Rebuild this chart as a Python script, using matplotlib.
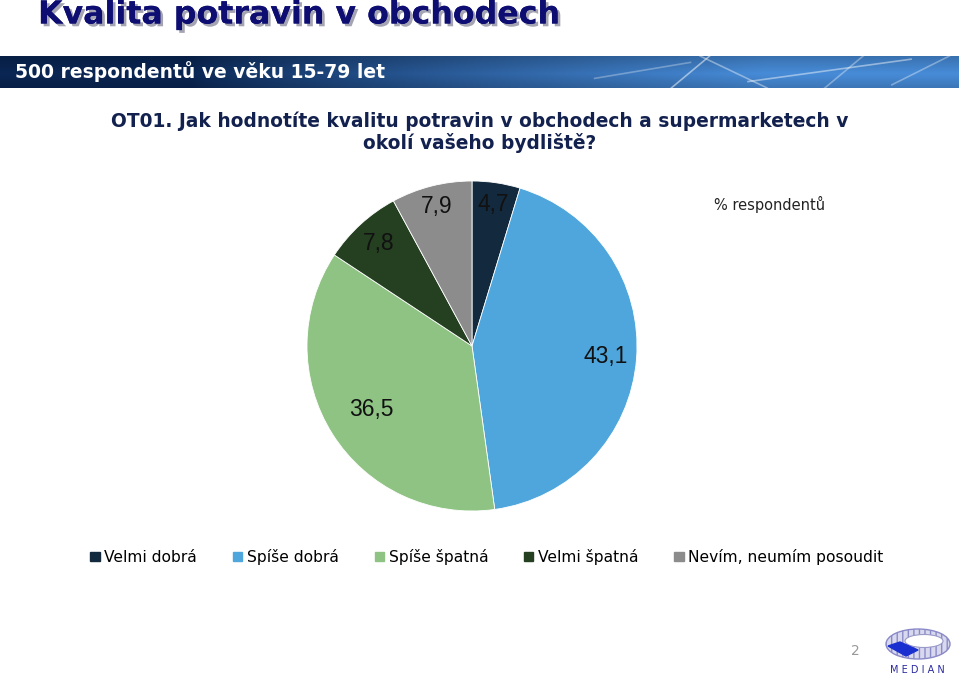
import numpy as np
import matplotlib
matplotlib.use("Agg")
import matplotlib.pyplot as plt
import matplotlib.patheffects as pe
from matplotlib.patches import Rectangle, Ellipse, Polygon

categories = ["Velmi dobrá", "Spíše dobrá", "Spíše špatná", "Velmi špatná", "Nevím, neumím posoudit"]
values = [4.7, 43.1, 36.5, 7.8, 7.9]
value_labels = ["4,7", "43,1", "36,5", "7,8", "7,9"]
colors = ["#132a3e", "#4ea6dc", "#8fc383", "#254021", "#8c8c8c"]
label_dist = [0.87, 0.81, 0.72, 0.84, 0.87]

W, H = 959, 676
fig = plt.figure(figsize=(W / 100, H / 100), dpi=100)

# Title with shadow
fig.text(38 / W, 1 - 15 / H, "Kvalita potravin v obchodech", fontsize=22.8,
         fontweight="bold", color="#0d0d72", va="center", ha="left",
         path_effects=[pe.withSimplePatchShadow(offset=(2, -2), shadow_rgbFace="#9a9aaa", alpha=0.9),
                       pe.Normal()])

# Banner
bax = fig.add_axes([0, 1 - 88 / H, 1, 32 / H])
bax.set_axis_off()
x = np.linspace(0, 1, 600)
y = np.linspace(0, 1, 40)
X, Y = np.meshgrid(x, y)
t = np.clip((X - 0.2) / 0.6, 0, 1) ** 0.8
r = 0.04 + 0.24 * t
g = 0.15 + 0.40 * t
b = 0.33 + 0.52 * t
shade = 1 - 0.35 * np.abs(Y - 0.55)
img = np.dstack([np.clip(r * shade, 0, 1), np.clip(g * shade, 0, 1), np.clip(b * shade, 0, 1)])
bax.imshow(img, aspect="auto", extent=[0, 1, 0, 1])
for (x0, y0, x1, y1, a) in [(0.70, 0.0, 0.74, 1.0, 0.5), (0.73, 1.0, 0.80, 0.0, 0.4),
                            (0.78, 0.2, 0.95, 0.9, 0.45), (0.86, 0.0, 0.90, 1.0, 0.35),
                            (0.62, 0.3, 0.72, 0.8, 0.3), (0.93, 0.1, 0.99, 1.0, 0.35)]:
    bax.plot([x0, x1], [y0, y1], color="white", lw=1.2, alpha=a)
bax.set_xlim(0, 1)
bax.set_ylim(0, 1)
bax.text(15 / W, 0.5, "500 respondentů ve věku 15-79 let", color="white", fontsize=13.5,
         fontweight="bold", va="center", ha="left")

# Question
fig.text(480 / W, 1 - 121 / H, "OT01. Jak hodnotíte kvalitu potravin v obchodech a supermarketech v",
         fontsize=13.4, fontweight="bold", color="#13214f", ha="center", va="center")
fig.text(480 / W, 1 - 143 / H, "okolí vašeho bydliště?",
         fontsize=13.4, fontweight="bold", color="#13214f", ha="center", va="center")

fig.text(770 / W, 1 - 204 / H, "% respondentů", fontsize=10.5, color="#222222", ha="center", va="center")

# Pie
cx, cy, R = 472, 346, 165
ax = fig.add_axes([(cx - R) / W, 1 - (cy + R) / H, 2 * R / W, 2 * R / H])
wedges, _ = ax.pie(values, colors=colors, startangle=90, counterclock=False,
                   wedgeprops=dict(linewidth=0.6, edgecolor="white"))
ax.set_xlim(-1, 1)
ax.set_ylim(-1, 1)
ax.set_aspect("auto")
total = sum(values)
cum = 0
for v, lab, d in zip(values, value_labels, label_dist):
    mid = (cum + v / 2) / total * 2 * np.pi
    cum += v
    ax.text(d * np.sin(mid), d * np.cos(mid), lab, fontsize=16.5, family="Liberation Sans",
            ha="center", va="center", color="#111111")

# Legend
handles = [Rectangle((0, 0), 1, 1, color=c) for c in colors]
fig.legend(handles, categories, loc="center", bbox_to_anchor=(487 / W, 1 - 557 / H), ncol=5,
           frameon=False, fontsize=11.2, handlelength=0.6, handleheight=0.6, handletextpad=0.3,
           columnspacing=2.3)

# Page number
fig.text(855 / W, 1 - 651 / H, "2", fontsize=10, color="#999999", ha="center", va="center")

# Logo
lax = fig.add_axes([880 / W, 1 - 676 / H, 75 / W, 50 / H])
lax.set_axis_off()
lax.set_xlim(0, 75)
lax.set_ylim(0, 50)
lax.add_patch(Ellipse((38, 32), 64, 30, facecolor="#d8d8ee", edgecolor="#8a8ac8", lw=1.0, hatch="|||"))
lax.add_patch(Ellipse((44, 35), 38, 13, facecolor="white", edgecolor="#9a9ac8", lw=0.8))
lax.add_patch(Polygon([[8, 30], [20, 34], [38, 26], [26, 20]], closed=True, color="#1a2fd0"))
lax.text(37, 6, "M E D I A N", fontsize=7, color="#2a2aa0", ha="center", va="center")

fig.savefig("out.png", dpi=100)
